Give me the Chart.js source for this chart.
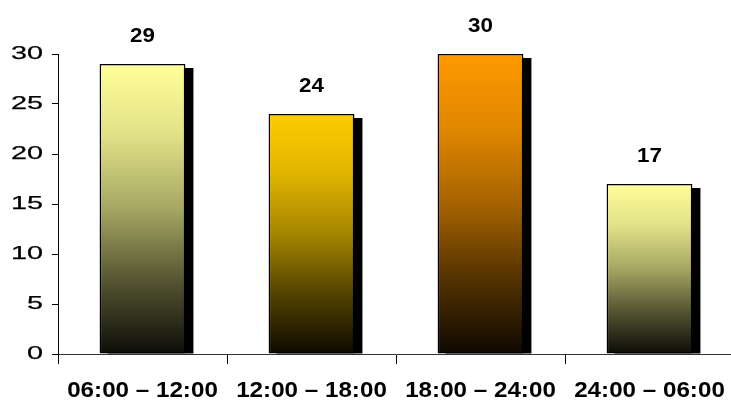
<!DOCTYPE html>
<html>
<head>
<meta charset="utf-8">
<script src="https://cdn.jsdelivr.net/npm/chart.js@4/dist/chart.umd.min.js"></script>
<style>
  html, body { margin: 0; padding: 0; background: #fff; overflow: hidden; }
  #wrap { position: relative; width: 734px; height: 404px; }
</style>
</head>
<body>
<div id="wrap"><canvas id="chart"></canvas></div>
<script>
// Time-of-day buckets and their counts
const categories = ['06:00 – 12:00', '12:00 – 18:00', '18:00 – 24:00', '24:00 – 06:00'];
const counts = [29, 24, 30, 17];
// Top colour of each bar's fade-to-black fill
const topColors = ['#FFFF99', '#FFCC00', '#FF9900', '#FFFF99'];
const yTicks = [0, 5, 10, 15, 20, 25, 30];

// Horizontal stretch (and optional outline weight) for each kind of text
const STRETCH = { x: 1.1, y: 1.6, value: 1.12 };
const WEIGHT = { x: 0, y: 0.25, value: 0 };

function hexToRgb(h) {
  const n = parseInt(h.slice(1), 16);
  return [(n >> 16) & 255, (n >> 8) & 255, n & 255];
}

// Brightness profile from top (t=0) to bottom (t=1) of a bar
const FADE = [[0, 1.0], [0.25, 0.88], [0.5, 0.65], [0.75, 0.33], [1, 0.05]];

function makeGradient(ctx, top, bottom, hex) {
  const g = ctx.createLinearGradient(0, top, 0, bottom);
  const [r, gg, b] = hexToRgb(hex);
  for (const [t, f] of FADE) {
    g.addColorStop(t, `rgb(${Math.round(r * f)},${Math.round(gg * f)},${Math.round(b * f)})`);
  }
  return g;
}

function withStretch(ctx, sx, weight, fn) {
  const base = CanvasRenderingContext2D.prototype.fillText;
  ctx.fillText = function (text, x, y) {
    this.save();
    this.translate(x, y);
    this.scale(sx, 1);
    base.call(this, text, 0, 0);
    if (weight > 0) {
      this.strokeStyle = this.fillStyle;
      this.lineWidth = weight;
      this.strokeText(text, 0, 0);
    }
    this.restore();
  };
  try { fn(); } finally { delete ctx.fillText; }
}

// Widen axis tick labels
const stretchLabels = {
  id: 'stretchLabels',
  beforeDraw(chart) {
    for (const id of ['x', 'y']) {
      const s = chart.scales[id];
      if (s && !s.__stretched) {
        const orig = s.drawLabels;
        s.drawLabels = function (area) {
          withStretch(this.ctx, STRETCH[id], WEIGHT[id], () => orig.call(this, area));
        };
        s.__stretched = true;
      }
    }
  }
};

// Per-bar vertical fade, and a solid drop shadow to the lower right
const barShadow = {
  id: 'barShadow',
  beforeDatasetsDraw(chart) {
    const ctx = chart.ctx;
    const meta = chart.getDatasetMeta(0);
    ctx.save();
    ctx.fillStyle = '#000';
    meta.data.forEach((bar, i) => {
      const { x, y, base, width } = bar.getProps(['x', 'y', 'base', 'width'], true);
      bar.options.backgroundColor = makeGradient(ctx, y, base, topColors[i]);
      ctx.fillRect(x - width / 2 + 8, y + 4, width, base - y - 4);
    });
    ctx.restore();
  }
};

// Value printed above each bar
const valueLabels = {
  id: 'valueLabels',
  afterDatasetsDraw(chart) {
    const ctx = chart.ctx;
    const meta = chart.getDatasetMeta(0);
    ctx.save();
    ctx.font = 'bold 20px "Liberation Sans", Arial, sans-serif';
    ctx.fillStyle = '#000';
    ctx.textAlign = 'center';
    ctx.textBaseline = 'middle';
    meta.data.forEach((bar, i) => {
      const { x, y } = bar.getProps(['x', 'y'], true);
      withStretch(ctx, STRETCH.value, WEIGHT.value, () => ctx.fillText(String(counts[i]), x, y - 27.5));
    });
    ctx.restore();
  }
};

new Chart(document.getElementById('chart'), {
  type: 'bar',
  data: {
    labels: categories,
    datasets: [{
      data: counts,
      backgroundColor: (c) => topColors[c.dataIndex ?? 0],
      borderColor: '#000',
      borderWidth: 1.5,
      borderSkipped: false,
      barPercentage: 1,
      categoryPercentage: 0.508
    }]
  },
  options: {
    responsive: true,
    maintainAspectRatio: false,
    animation: false,
    layout: { padding: { top: 54, right: 0, bottom: 0, left: 0 } },
    plugins: {
      legend: { display: false },
      tooltip: { enabled: false }
    },
    scales: {
      x: {
        border: { display: true, color: '#333', width: 1 },
        grid: { display: true, drawOnChartArea: false, drawTicks: true, tickLength: 10, color: '#000', offset: true },
        ticks: {
          color: '#000',
          padding: 14,
          font: { family: '"Liberation Sans", Arial, sans-serif', size: 22, weight: 'bold' },
          maxRotation: 0,
          autoSkip: false
        },
        afterFit(scale) { scale.height = 50; }
      },
      y: {
        min: 0,
        max: 30,
        border: { display: true, color: '#000', width: 1 },
        grid: { display: true, drawOnChartArea: false, drawTicks: true, tickLength: 6, color: '#000' },
        afterBuildTicks(scale) { scale.ticks = yTicks.map((v) => ({ value: v })); },
        ticks: {
          color: '#000',
          padding: 9,
          font: { family: '"Liberation Sans", Arial, sans-serif', size: 18 }
        },
        afterFit(scale) { scale.width = 58; }
      }
    }
  },
  plugins: [stretchLabels, barShadow, valueLabels]
});
</script>
</body>
</html>
